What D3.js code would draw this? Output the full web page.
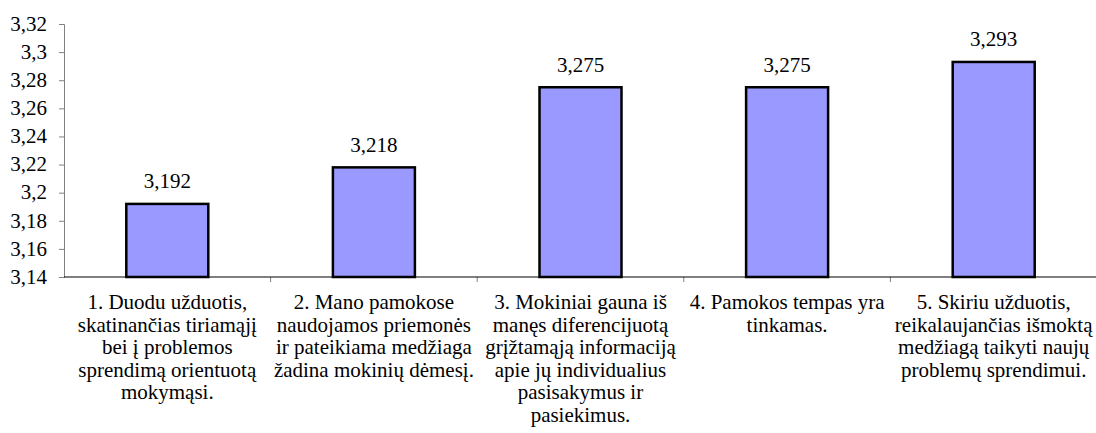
<!DOCTYPE html>
<html>
<head>
<meta charset="utf-8">
<script src="https://cdnjs.cloudflare.com/ajax/libs/d3/7.8.5/d3.min.js"></script>
<style>
  body { margin: 0; background: #fff; }
</style>
</head>
<body>
<div id="chart"></div>
<script>
// data
var categories = ["c1", "c2", "c3", "c4", "c5"];
var values = [3.192, 3.218, 3.275, 3.275, 3.293];
var labelLines = [
  ["1. Duodu užduotis,", "skatinančias tiriamąjį", "bei į problemos", "sprendimą orientuotą", "mokymąsi."],
  ["2. Mano pamokose", "naudojamos priemonės", "ir pateikiama medžiaga", "žadina mokinių dėmesį."],
  ["3. Mokiniai gauna iš", "manęs diferencijuotą", "grįžtamąją informaciją", "apie jų individualius", "pasisakymus ir", "pasiekimus."],
  ["4. Pamokos tempas yra", "tinkamas."],
  ["5. Skiriu užduotis,", "reikalaujančias išmoktą", "medžiagą taikyti naujų", "problemų sprendimui."]
];
var yTicks = [3.14, 3.16, 3.18, 3.2, 3.22, 3.24, 3.26, 3.28, 3.3, 3.32];

var fontName = "Liberation Serif";
var fontSize = 21;
var w = 1096, h = 433;
var mLeft = 64, mRight = 1097, mTop = 24, mBottom = 277;

var svg = d3.select("#chart").append("svg")
  .attr("width", w)
  .attr("height", h)
  .attr("font-family", fontName);

var x = d3.scaleBand().domain(categories).range([mLeft, mRight]).paddingInner(0).paddingOuter(0);
var y = d3.scaleLinear().domain([3.14, 3.32]).range([mBottom, mTop]);

var fmt = function(d) { return String(+d.toFixed(3)).replace(".", ","); };

// y axis
var yAxis = d3.axisLeft(y).tickValues(yTicks).tickSize(5).tickPadding(12).tickFormat(fmt);
var gy = svg.append("g").attr("transform", "translate(" + mLeft + ",0)").call(yAxis);
gy.attr("font-family", fontName).attr("font-size", fontSize);
gy.select(".domain").attr("stroke", "#808080").attr("stroke-width", 1);
gy.selectAll(".tick line").attr("stroke", "#808080");
gy.selectAll(".tick text").attr("fill", "#000").attr("dy", "0.3em");

// x axis ticks at category boundaries
var bounds = categories.map(function(c) { return x(c); });
svg.selectAll("line.xtick")
  .data(bounds.slice(1))
  .enter().append("line")
  .attr("class", "xtick")
  .attr("x1", function(d) { return d; })
  .attr("x2", function(d) { return d; })
  .attr("y1", mBottom)
  .attr("y2", mBottom + 5)
  .attr("stroke", "#808080");

// bars
var barW = 82;
svg.selectAll("rect.bar")
  .data(values)
  .enter().append("rect")
  .attr("class", "bar")
  .attr("x", function(d, i) { return x(categories[i]) + x.bandwidth() / 2 - barW / 2; })
  .attr("y", function(d) { return y(d); })
  .attr("width", barW)
  .attr("height", function(d) { return y(3.14) - y(d); })
  .attr("fill", "#9999ff")
  .attr("stroke", "#000")
  .attr("stroke-width", 2.5);

// x baseline
svg.append("line")
  .attr("x1", mLeft).attr("x2", mRight)
  .attr("y1", mBottom).attr("y2", mBottom)
  .attr("stroke", "#000").attr("stroke-width", 1.2);

// value labels
svg.selectAll("text.val")
  .data(values)
  .enter().append("text")
  .attr("class", "val")
  .attr("x", function(d, i) { return x(categories[i]) + x.bandwidth() / 2; })
  .attr("y", function(d) { return y(d) - 15.5; })
  .attr("text-anchor", "middle")
  .attr("font-size", fontSize)
  .text(fmt);

// category labels
var cat = svg.selectAll("text.cat")
  .data(labelLines)
  .enter().append("text")
  .attr("class", "cat")
  .attr("text-anchor", "middle")
  .attr("font-size", fontSize);

cat.selectAll("tspan")
  .data(function(d, i) { return d.map(function(t) { return { t: t, i: i }; }); })
  .enter().append("tspan")
  .attr("x", function(d) { return x(categories[d.i]) + x.bandwidth() / 2; })
  .attr("y", function(d, j) { return 309 + j * 22.5; })
  .text(function(d) { return d.t; });

// force serif face on every text
svg.selectAll("text, tspan")
  .style("font-family", "'Liberation Serif', 'Times New Roman', serif", "important");
</script>
</body>
</html>
